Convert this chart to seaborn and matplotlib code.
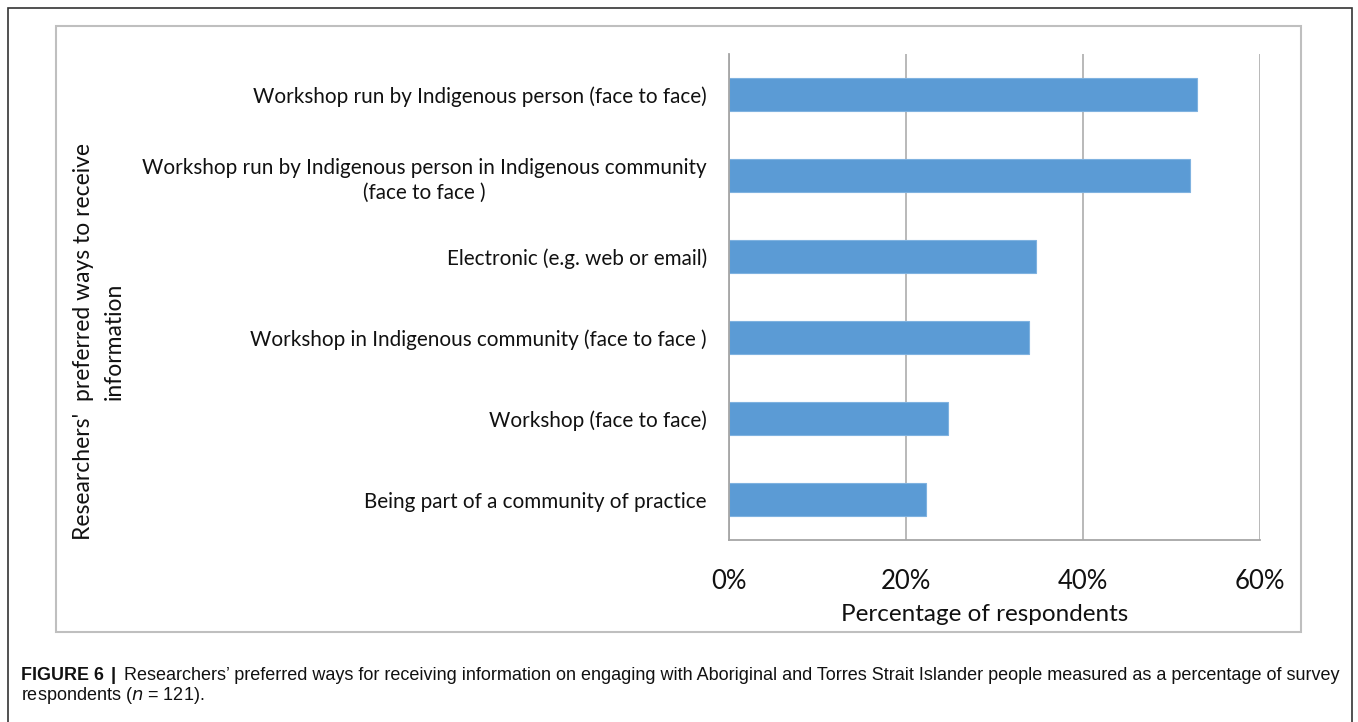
import matplotlib
matplotlib.use("Agg")
import matplotlib.pyplot as plt
from matplotlib.patches import Rectangle
from matplotlib.ticker import PercentFormatter, FixedLocator
import seaborn as sns
import pandas as pd

# Survey responses (share of n = 121 respondents)
categories = [
    "Workshop run by Indigenous person (face to face)",
    "Workshop run by Indigenous person in Indigenous community\n(face to face )",
    "Electronic (e.g. web or email)",
    "Workshop in Indigenous community (face to face )",
    "Workshop (face to face)",
    "Being part of a community of practice",
]
shares = [0.529, 0.521, 0.347, 0.339, 0.248, 0.223]
x_ticks = [0.0, 0.2, 0.4, 0.6]

df = pd.DataFrame({"method": categories, "share": shares})

sns.set_theme(style="white")
plt.rcParams["font.family"] = ["Lato", "DejaVu Sans"]

W, H = 1358, 722
fig = plt.figure(figsize=(W / 100, H / 100), dpi=100)
fig.patch.set_facecolor("white")

# axes placed in pixel terms
left, right, bottom, top = 729, 1260, 540, 54
ax = fig.add_axes([left / W, 1 - bottom / H, (right - left) / W, (bottom - top) / H])

bar_color = "#5B9BD5"
sns.barplot(data=df, x="share", y="method", orient="h", color=bar_color,
            width=0.41, saturation=1, edgecolor="#7fb2e0", linewidth=0.8, ax=ax)

ax.set_xlim(0, 0.6)
ax.set_ylim(len(categories) - 0.5, -0.5)
ax.xaxis.set_major_locator(FixedLocator(x_ticks))
ax.xaxis.set_major_formatter(PercentFormatter(1.0, decimals=0))
ax.grid(axis="x", color="#b3b3b3", linewidth=1.3)
ax.grid(axis="y", visible=False)
ax.set_axisbelow(True)

for s in ["top", "right"]:
    ax.spines[s].set_visible(False)
for s in ["left", "bottom"]:
    ax.spines[s].set_color("#a6a6a6")
    ax.spines[s].set_linewidth(1.3)

# category boundary ticks on the y axis
ax.yaxis.set_minor_locator(FixedLocator([i - 0.5 for i in range(len(categories) + 1)]))
ax.tick_params(axis="y", which="major", length=0, pad=16, labelsize=14.9, labelcolor="#111111")
ax.tick_params(axis="y", which="minor", length=6, width=1.2, color="#a6a6a6", direction="out")
ax.tick_params(axis="x", which="major", length=6, width=1.2, color="#a6a6a6", direction="out",
               pad=15, labelsize=18.5, labelcolor="#111111")
for lbl in ax.get_yticklabels():
    lbl.set_multialignment("center")
    lbl.set_linespacing(1.35)

ax.set_ylabel("")
ax.set_xlabel("Percentage of respondents", fontsize=17.5, color="#111111")
ax.xaxis.set_label_coords(0.482, -0.132)

fig.text(99 / W, 1 - 341 / H, "Researchers'  preferred ways to receive\ninformation",
         rotation=90, ha="center", va="center", fontsize=16.5, color="#111111",
         multialignment="center", linespacing=1.55)

# chart frame and page frame
fig.add_artist(Rectangle((56 / W, 1 - 632 / H), (1301 - 56) / W, (632 - 26) / H,
                         transform=fig.transFigure, fill=False, edgecolor="#bfbfbf", linewidth=1.5))
fig.add_artist(Rectangle((8 / W, -0.05), (1352 - 8) / W, 1 - 8 / H + 0.05,
                         transform=fig.transFigure, fill=False, edgecolor="#333333", linewidth=1.2))

# caption
cap_font = ["Liberation Sans Narrow", "Liberation Sans", "DejaVu Sans"]
fig.text(21 / W, 1 - 675 / H, "FIGURE 6", fontsize=12.9, fontweight="bold",
         family=cap_font, va="center", ha="left", color="#111111")
fig.text(111 / W, 1 - 675 / H, "|", fontsize=13.5, fontweight="bold",
         family=cap_font, va="center", ha="left", color="#111111")
fig.text(124 / W, 1 - 675 / H,
         "Researchers\u2019 preferred ways for receiving information on engaging with Aboriginal and Torres Strait Islander people measured as a percentage of survey",
         fontsize=12.95, family=cap_font, va="center", ha="left", color="#111111")
fig.text(21 / W, 1 - 696 / H, "respondents ($n$ = 121).", fontsize=12.95, family=cap_font,
         va="center", ha="left", color="#111111")

fig.savefig("out.png", dpi=100)
